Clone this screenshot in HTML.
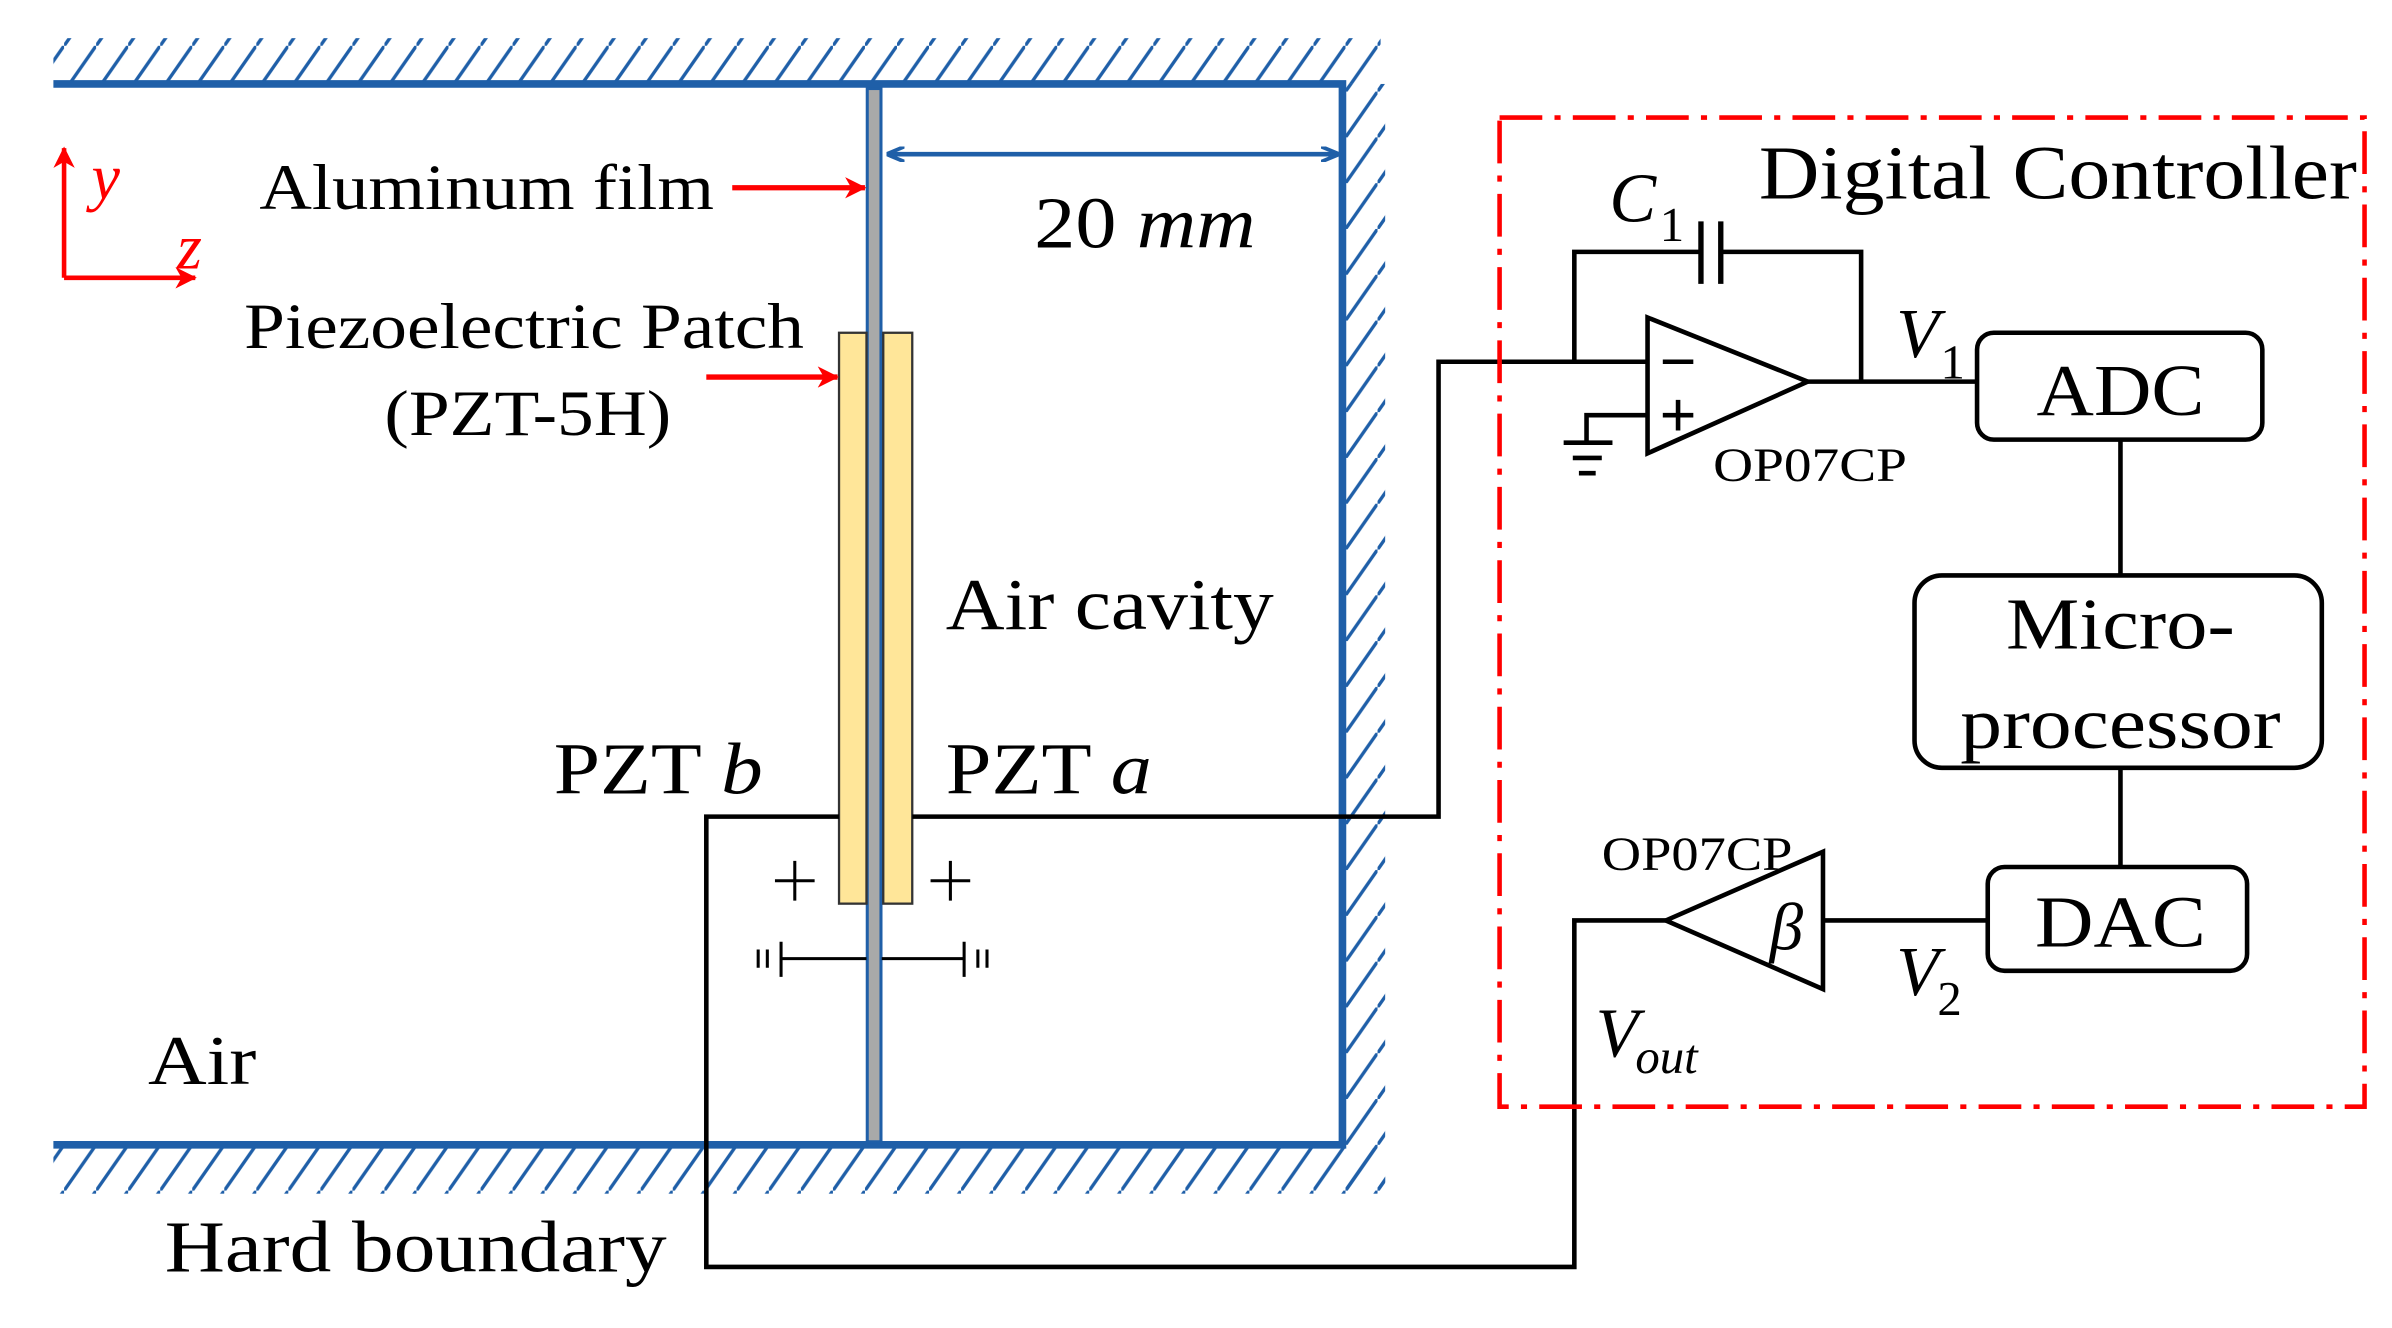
<!DOCTYPE html>
<html><head><meta charset="utf-8"><style>
html,body{margin:0;padding:0;background:#fff;}
svg{display:block;}
text{font-family:"Liberation Serif",serif;fill:#000;}
</style></head><body>
<svg width="2392" height="1328" viewBox="0 0 1568 870" preserveAspectRatio="none" xmlns="http://www.w3.org/2000/svg">
<defs>
<pattern id="h" width="21" height="30" patternUnits="userSpaceOnUse">
<line x1="-2" y1="32.9" x2="23" y2="-2.9" stroke="#1f5fa8" stroke-width="2.2"/>
</pattern>
<marker id="ab" markerWidth="12" markerHeight="10" refX="11" refY="5" orient="auto-start-reverse" markerUnits="userSpaceOnUse">
<path d="M0,0 L12,5 L0,10" fill="none" stroke="#1f5fa8" stroke-width="2.5"/>
</marker>
<marker id="ar" markerWidth="14" markerHeight="14" refX="13" refY="7" orient="auto" markerUnits="userSpaceOnUse">
<path d="M0,0 L14,7 L0,14 L4,7 Z" fill="#f00"/>
</marker>
</defs>
<rect x="35" y="25" width="870" height="30" fill="url(#h)"/>
<rect x="882" y="55" width="26" height="725" fill="url(#h)"/>
<rect x="35" y="752" width="873" height="30" fill="url(#h)"/>
<path d="M35,55 L880,55 L880,750 L35,750" fill="none" stroke="#1f5fa8" stroke-width="5"/>
<rect x="568.5" y="58" width="9" height="690" fill="#a9a9a9" stroke="#1f5fa8" stroke-width="2"/>
<rect x="550" y="218" width="18" height="374" fill="#ffe699" stroke="#333" stroke-width="1.5"/>
<rect x="579" y="218" width="19" height="374" fill="#ffe699" stroke="#333" stroke-width="1.5"/>
<line x1="582" y1="101" x2="877" y2="101" stroke="#1f5fa8" stroke-width="3" marker-start="url(#ab)" marker-end="url(#ab)"/>
<line x1="42" y1="182" x2="42" y2="97" stroke="#f00" stroke-width="3" marker-end="url(#ar)"/>
<line x1="42" y1="182" x2="128" y2="182" stroke="#f00" stroke-width="3" marker-end="url(#ar)"/>
<text x="60" y="130" font-size="42" font-style="italic" style="fill:#f00">y</text>
<text x="116" y="176" font-size="42" font-style="italic" style="fill:#f00">z</text>
<line x1="480" y1="123" x2="567" y2="123" stroke="#f00" stroke-width="3.5" marker-end="url(#ar)"/>
<line x1="463" y1="247" x2="549" y2="247" stroke="#f00" stroke-width="3.5" marker-end="url(#ar)"/>
<text x="170" y="137" font-size="42" textLength="298" lengthAdjust="spacingAndGlyphs">Aluminum  film</text>
<text x="678" y="162" font-size="48" textLength="145" lengthAdjust="spacingAndGlyphs">20 <tspan font-style="italic">mm</tspan></text>
<text x="160" y="228" font-size="42" textLength="367" lengthAdjust="spacingAndGlyphs">Piezoelectric  Patch</text>
<text x="252" y="285" font-size="42" textLength="188" lengthAdjust="spacingAndGlyphs">(PZT-5H)</text>
<text x="620" y="412" font-size="48" textLength="215" lengthAdjust="spacingAndGlyphs">Air cavity</text>
<text x="363" y="520" font-size="48" textLength="137" lengthAdjust="spacingAndGlyphs">PZT <tspan font-style="italic">b</tspan></text>
<text x="620" y="520" font-size="48" textLength="135" lengthAdjust="spacingAndGlyphs">PZT <tspan font-style="italic">a</tspan></text>
<text x="97" y="710" font-size="46" textLength="71" lengthAdjust="spacingAndGlyphs">Air</text>
<text x="108" y="833" font-size="48" textLength="329" lengthAdjust="spacingAndGlyphs">Hard boundary</text>
<g fill="none" stroke="#000" stroke-width="3">
<path d="M550,535 L463,535 L463,830 L1032,830 L1032,603 L1092,603"/>
<path d="M598,535 L943,535 L943,237 L1080,237"/>
<path d="M508,577 L534,577 M521,564 L521,590 M610,577 L636,577 M623,564 L623,590" stroke-width="2"/>
<path d="M512,628 L568,628 M578,628 L632,628 M512,617 L512,640 M632,617 L632,640 M497,622 L497,634 M503,622 L503,634 M641,622 L641,634 M647,622 L647,634" stroke-width="2"/>
<path d="M1032,237 L1032,165 L1115,165 M1128,165 L1220,165 L1220,250"/>
<path d="M1115,145 L1115,186 M1128,145 L1128,186" stroke-width="3.5"/>
<path d="M1080,208 L1080,297 L1185,250 Z"/>
<path d="M1090,237 L1110,237 M1090,272 L1110,272 M1100,262 L1100,282"/>
<path d="M1080,272 L1040,272 L1040,290 M1025,290 L1057,290 M1031,300 L1050,300 M1035,310 L1046,310"/>
<path d="M1185,250 L1296,250"/>
<rect x="1296" y="218" width="187" height="70" rx="11"/>
<path d="M1390,288 L1390,377 M1390,503 L1390,568"/>
<rect x="1255" y="377" width="267" height="126" rx="18"/>
<rect x="1303" y="568" width="170" height="68" rx="11"/>
<path d="M1195,558 L1195,648 L1092,603 Z"/>
<path d="M1195,603 L1303,603"/>
</g>
<rect x="983" y="77" width="567" height="648" fill="none" stroke="#f00" stroke-width="3" stroke-dasharray="28,8,4,8"/>
<text x="1153" y="130" font-size="50" textLength="392" lengthAdjust="spacingAndGlyphs">Digital Controller</text>
<text x="1055" y="145" font-size="46" font-style="italic">C</text>
<text x="1088" y="158" font-size="32">1</text>
<text x="1243" y="234" font-size="46" font-style="italic">V</text>
<text x="1272" y="248" font-size="32">1</text>
<text x="1123" y="315" font-size="31" textLength="127" lengthAdjust="spacingAndGlyphs">OP07CP</text>
<text x="1390" y="272" font-size="48" text-anchor="middle" textLength="110" lengthAdjust="spacingAndGlyphs">ADC</text>
<text x="1390" y="425" font-size="48" text-anchor="middle" textLength="150" lengthAdjust="spacingAndGlyphs">Micro-</text>
<text x="1390" y="490" font-size="48" text-anchor="middle" textLength="210" lengthAdjust="spacingAndGlyphs">processor</text>
<text x="1390" y="620" font-size="48" text-anchor="middle" textLength="112" lengthAdjust="spacingAndGlyphs">DAC</text>
<text x="1050" y="570" font-size="31" textLength="125" lengthAdjust="spacingAndGlyphs">OP07CP</text>
<text x="1160" y="622" font-size="44" font-style="italic">β</text>
<text x="1243" y="652" font-size="46" font-style="italic">V</text>
<text x="1270" y="665" font-size="32">2</text>
<text x="1046" y="692" font-size="46" font-style="italic">V</text>
<text x="1072" y="703" font-size="32" font-style="italic">out</text>
</svg>
</body></html>
